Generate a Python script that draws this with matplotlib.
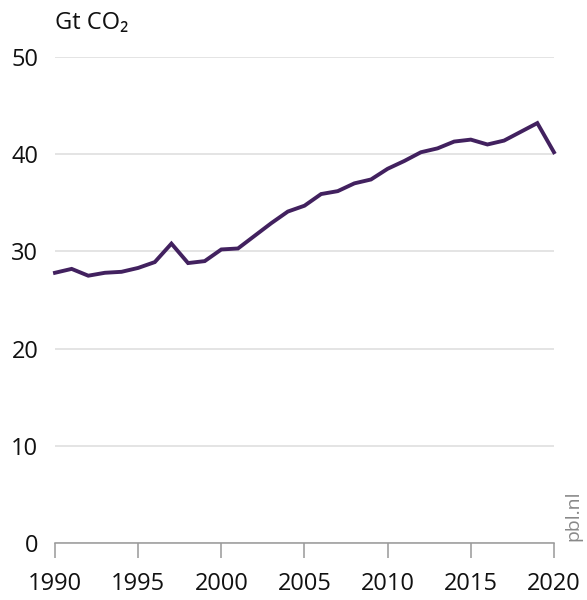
import matplotlib
matplotlib.use("Agg")
import matplotlib.pyplot as plt

# Global CO2 emissions, Gt CO2
years = list(range(1990, 2021))
emissions = [27.8, 28.2, 27.5, 27.8, 27.9, 28.3, 28.9, 30.8, 28.8, 29.0,
             30.2, 30.3, 31.6, 32.9, 34.1, 34.7, 35.9, 36.2, 37.0, 37.4,
             38.5, 39.3, 40.2, 40.6, 41.3, 41.5, 41.0, 41.4, 42.3, 43.2,
             40.2]
x_ticks = [1990, 1995, 2000, 2005, 2010, 2015, 2020]
y_ticks = [0, 10, 20, 30, 40, 50]

plt.rcParams['font.family'] = ['Open Sans', 'DejaVu Sans']

fig = plt.figure(figsize=(5.87, 6.0), dpi=100)
ax = fig.add_axes([0.0937, 0.095, 0.850, 0.810])

ax.plot(years, emissions, color='#42215f', linewidth=2.8, solid_joinstyle='miter',
        zorder=3, clip_on=False)

ax.set_xlim(1990, 2020)
ax.set_ylim(0, 50)
ax.set_xticks(x_ticks)
ax.set_yticks(y_ticks)

# grid lines only horizontal
ax.grid(axis='y', color='#dcdcdc', linewidth=1.1)
ax.set_axisbelow(True)
for s in ['left', 'right', 'top']:
    ax.spines[s].set_visible(False)
ax.spines['bottom'].set_color('#999999')
ax.spines['bottom'].set_linewidth(1.1)

ax.tick_params(axis='x', direction='out', length=11, width=1.1, color='#999999',
               pad=10, labelsize=17, labelcolor='#111111')
ax.tick_params(axis='y', length=0, pad=12, labelsize=17, labelcolor='#111111')

fig.text(0.094, 0.962, 'Gt CO\u2082', fontsize=17, color='#111111',
         ha='left', va='center')
fig.text(0.976, 0.14, 'pbl.nl', fontsize=14, color='#888888',
         rotation=90, ha='center', va='center')

fig.savefig('out.png', dpi=100)
